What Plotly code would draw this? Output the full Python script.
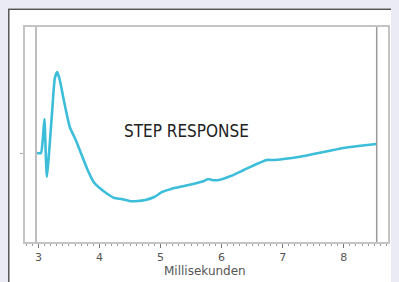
import plotly.graph_objects as go

# Step response trace (time in ms, relative amplitude)
t_ms = [2.976, 3.041, 3.073, 3.098, 3.138, 3.220, 3.269, 3.309, 3.350, 3.415,
        3.513, 3.611, 3.708, 3.806, 3.904, 4.002, 4.132, 4.246, 4.360, 4.490,
        4.621, 4.751, 4.897, 5.028, 5.174, 5.386, 5.598, 5.712, 5.777, 5.842,
        5.956, 6.151, 6.363, 6.575, 6.738, 6.852, 7.015, 7.259, 7.503, 7.752,
        7.993, 8.238, 8.531]
amp = [0.0, 0.0, 0.185, 0.42, -0.296, 0.469, 0.926, 1.0, 0.901, 0.654,
       0.321, 0.160, -0.025, -0.210, -0.358, -0.432, -0.506, -0.556, -0.568, -0.593,
       -0.593, -0.58, -0.543, -0.481, -0.444, -0.407, -0.370, -0.346, -0.321, -0.333,
       -0.333, -0.284, -0.210, -0.136, -0.086, -0.086, -0.074, -0.049, -0.012, 0.025,
       0.062, 0.086, 0.111]

tick_vals = [3, 4, 5, 6, 7, 8]
tick_text = ["3", "4", "5", "6", "7", "8"]
x_title = "Millisekunden"
chart_label = "STEP RESPONSE"
window_start = 2.96
window_end = 8.54

# the page body has an 8px margin, so the figure starts at (8, 8)
OFF = 8
W, H = 399 - OFF, 282 - OFF
ML, MR, MT, MB = 17, 9, 19, 40
pw = W - ML - MR
ph = H - MT - MB

def px_x(p):  # page pixel -> paper x
    return (p - OFF - ML) / pw

def px_y(p):  # page pixel -> paper y
    return (H - MB - (p - OFF)) / ph

fig = go.Figure()
fig.add_trace(go.Scatter(
    x=t_ms, y=amp, mode="lines",
    line=dict(color="#3cbdd9", width=2.6, shape="spline", smoothing=0.5),
    hoverinfo="skip", showlegend=False,
))

shapes = [
    dict(type="line", xref="paper", yref="paper", x0=px_x(8.7), x1=px_x(8.7),
         y0=px_y(290), y1=px_y(9), line=dict(color="#555555", width=1.5)),
    dict(type="line", xref="paper", yref="paper", x0=px_x(8), x1=px_x(400),
         y0=px_y(9.2), y1=px_y(9.2), line=dict(color="#555555", width=1.5)),
    # inner window lines
    dict(type="line", xref="x", yref="paper", x0=window_start, x1=window_start,
         y0=0, y1=1, line=dict(color="#a8a8a8", width=1.5)),
    dict(type="line", xref="x", yref="paper", x0=window_end, x1=window_end,
         y0=0, y1=1, line=dict(color="#9a9a9a", width=1.5)),
]

fig.update_layout(
    width=W, height=H, autosize=False,
    margin=dict(l=ML, r=MR, t=MT, b=MB, pad=0),
    paper_bgcolor="white", plot_bgcolor="white",
    shapes=shapes,
    xaxis=dict(range=[2.78, 8.725], tickvals=tick_vals, ticktext=tick_text,
               ticks="outside", ticklen=4, tickcolor="#777777", tickwidth=1,
               minor=dict(dtick=0.1, tick0=3, ticks="outside", ticklen=2, tickcolor="#999999"),
               showgrid=False, zeroline=False, showline=True, mirror=True,
               linecolor="#c4c4c4", linewidth=1.5,
               tickfont=dict(family="DejaVu Sans", size=11, color="#555555")),
    yaxis=dict(range=[-1.099, 1.556], showticklabels=False, tickvals=[0],
               ticks="outside", ticklen=3, tickcolor="#aaaaaa",
               showgrid=False, zeroline=False, showline=True, mirror=True,
               linecolor="#c4c4c4", linewidth=1.5),
    annotations=[
        dict(text=x_title, xref="paper", yref="paper", x=px_x(206), y=px_y(271),
             xanchor="center", yanchor="middle", showarrow=False,
             font=dict(family="DejaVu Sans", size=12, color="#555555")),
        dict(text=chart_label, xref="paper", yref="paper", x=px_x(187), y=px_y(131),
             xanchor="center", yanchor="middle", showarrow=False,
             font=dict(family="DejaVu Sans Condensed, Open Sans", size=17, color="#222222")),
    ],
)

fig.write_html("out.html",
               post_script="document.body.style.backgroundColor='#ebebf5';")
